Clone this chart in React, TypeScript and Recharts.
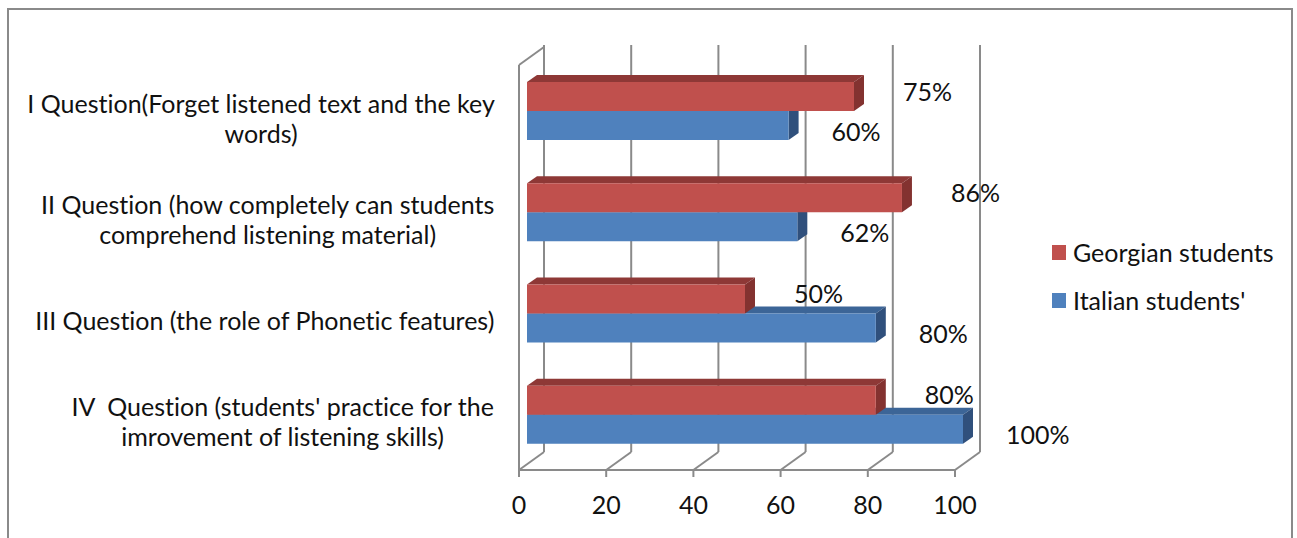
import React from 'react';
import { BarChart, Bar, XAxis, YAxis, CartesianGrid, LabelList, Legend } from 'recharts';

// ---------- data ----------
const categories = [
  'I Question(Forget listened text and the key words)',
  'II Question (how completely can students comprehend listening material)',
  'III Question (the role of Phonetic features)',
  "IV  Question (students' practice for the imrovement of listening skills)",
];
const categoryLines = [
  ['I Question(Forget listened text and the key', 'words)'],
  ['II Question (how completely can students', 'comprehend listening material)'],
  ['III Question (the role of Phonetic features)'],
  ["IV  Question (students' practice for the", 'imrovement of listening skills)'],
];
const georgianValues = [75, 86, 50, 80];
const italianValues = [60, 62, 80, 100];
const xTicks = [0, 20, 40, 60, 80, 100];
const boundaryTicks = [0, 1, 2, 3, 4];
const seriesNames = { georgian: 'Georgian students', italian: "Italian students'" };
const legendOrder = [seriesNames.georgian, seriesNames.italian];

const data = categories.map((c, i) => ({
  category: c,
  georgian: georgianValues[i],
  italian: italianValues[i],
}));

// ---------- style ----------
const FONT = 'Lato, Carlito, "Open Sans", sans-serif';
const FS = 25;
const TEXT = '#111';
const GRID = '#8a8a8a';
const RED = '#C0504D';
const RED_TOP = '#8E3836';
const RED_SIDE = '#833230';
const BLUE = '#4F81BD';
const BLUE_TOP = '#3C6597';
const BLUE_SIDE = '#30507C';
const NOLIG: React.CSSProperties = { fontVariantLigatures: 'none', fontFeatureSettings: '"liga" 0, "clig" 0' };

const WALL_DX = 25;
const WALL_DY = -18;
const SHIFT_X = 8;
const SHIFT_Y = -5;
const DEPTH_X = 10;
const DEPTH_Y = -7;
const LEGEND_W = 260;

let ctx: CanvasRenderingContext2D | null = null;
const measure = (t: string) => {
  if (!ctx) ctx = document.createElement('canvas').getContext('2d');
  if (!ctx) return t.length * FS * 0.45;
  ctx.font = `${FS}px ${FONT}`;
  return ctx.measureText(t).width;
};

const make3DBar = (front: string, top: string, side: string) => (props: any) => {
  const { x, y, width, height } = props;
  if (x == null || width == null) return null;
  const fx = x + SHIFT_X;
  const fy = y + SHIFT_Y;
  return (
    <g>
      <polygon
        points={`${fx},${fy} ${fx + DEPTH_X},${fy + DEPTH_Y} ${fx + width + DEPTH_X},${fy + DEPTH_Y} ${fx + width},${fy}`}
        fill={top}
      />
      <polygon
        points={`${fx + width},${fy} ${fx + width + DEPTH_X},${fy + DEPTH_Y} ${fx + width + DEPTH_X},${fy + height + DEPTH_Y} ${fx + width},${fy + height}`}
        fill={side}
      />
      <rect x={fx} y={fy} width={width} height={height} fill={front} />
    </g>
  );
};

const makeLabel = (dx: number, dy: number) => (props: any) => {
  const { x, y, width, height, value } = props;
  return (
    <text
      x={x + width + dx}
      y={y + height / 2 + dy}
      dominantBaseline="central"
      fontFamily={FONT}
      fontSize={FS}
      fill={TEXT}
      style={NOLIG}
    >
      {`${value}%`}
    </text>
  );
};

const CategoryTick = (props: any) => {
  const { x, y, payload } = props;
  const idx = categories.indexOf(payload.value);
  const lines = categoryLines[idx] || [String(payload.value)];
  const maxW = Math.max(...lines.map(measure));
  const cx = x - maxW / 2;
  const lh = 30;
  const startY = y + 2 - ((lines.length - 1) * lh) / 2;
  return (
    <g>
      {lines.map((l, i) => (
        <text
          key={i}
          x={cx}
          y={startY + i * lh}
          textAnchor="middle"
          dominantBaseline="central"
          fontFamily={FONT}
          fontSize={FS}
          fill={TEXT}
          style={{ ...NOLIG, whiteSpace: 'pre' }}
          xmlSpace="preserve"
        >
          {l}
        </text>
      ))}
    </g>
  );
};

const wallLine = (p: any) => {
  const { x1, y1, y2, index, key } = p;
  return (
    <g key={key}>
      <line x1={x1 + WALL_DX} y1={y1 + WALL_DY - 2} x2={x1 + WALL_DX} y2={y2 + WALL_DY} stroke={GRID} strokeWidth={2} />
      <line x1={x1} y1={y2} x2={x1 + WALL_DX} y2={y2 + WALL_DY} stroke={GRID} strokeWidth={2} />
      {index === 0 ? (
        <line x1={x1} y1={y1} x2={x1 + WALL_DX} y2={y1 + WALL_DY} stroke={GRID} strokeWidth={2} />
      ) : null}
    </g>
  );
};

const renderLegend = (props: any) => {
  const payload = [...(props.payload || [])].sort(
    (a: any, b: any) => legendOrder.indexOf(a.value) - legendOrder.indexOf(b.value)
  );
  return (
    <div style={{ fontFamily: FONT, fontSize: FS, color: TEXT, ...NOLIG }}>
      {payload.map((item: any, i: number) => (
        <div key={i} style={{ height: 48, display: 'flex', alignItems: 'center', whiteSpace: 'nowrap' }}>
          <span style={{ display: 'inline-block', width: 14, height: 15, background: item.color, marginRight: 7 }} />
          <span>{item.value}</span>
        </div>
      ))}
    </div>
  );
};

export default function App() {
  return (
    <div style={{ position: 'absolute', left: 0, top: 0, width: 1297, height: 538, overflow: 'hidden', background: '#fff' }}>
      <div
        style={{
          position: 'absolute',
          left: 7,
          top: 8,
          width: 1286,
          height: 600,
          border: `2px solid ${GRID}`,
          boxSizing: 'border-box',
        }}
      />
      <div style={{ position: 'absolute', left: 0, top: 0 }}>
        <BarChart
          width={1297}
          height={538}
          data={data}
          layout="vertical"
          barSize={29}
          barGap={-58}
          margin={{ top: 65, right: 342 - LEGEND_W, bottom: 8, left: 19 }}
        >
          <CartesianGrid vertical={wallLine} horizontal={false} />
          <XAxis
            type="number"
            domain={[0, 100]}
            ticks={xTicks}
            tickSize={7}
            tickMargin={19}
            height={60}
            axisLine={{ stroke: GRID, strokeWidth: 2 }}
            tickLine={{ stroke: GRID, strokeWidth: 2 }}
            tick={{ fontFamily: FONT, fontSize: FS, fill: TEXT }}
          />
          <YAxis
            type="category"
            dataKey="category"
            width={500}
            tickSize={0}
            tickMargin={24}
            tickLine={false}
            axisLine={{ stroke: GRID, strokeWidth: 2 }}
            tick={<CategoryTick />}
            interval={0}
          />
          <YAxis
            yAxisId="bounds"
            type="number"
            domain={[0, 4]}
            ticks={boundaryTicks}
            tick={false}
            axisLine={false}
            tickLine={{ stroke: GRID, strokeWidth: 2 }}
            tickSize={6}
            width={0}
          />
          <Legend
            layout="horizontal"
            verticalAlign="middle"
            align="right"
            content={renderLegend}
            wrapperStyle={{ left: 1052, top: 228, width: LEGEND_W }}
          />
          <Bar
            dataKey="italian"
            name={seriesNames.italian}
            fill={BLUE}
            isAnimationActive={false}
            shape={make3DBar(BLUE, BLUE_TOP, BLUE_SIDE)}
          >
            <LabelList dataKey="italian" content={makeLabel(51, 0)} />
          </Bar>
          <Bar
            dataKey="georgian"
            name={seriesNames.georgian}
            fill={RED}
            isAnimationActive={false}
            shape={make3DBar(RED, RED_TOP, RED_SIDE)}
          >
            <LabelList dataKey="georgian" content={makeLabel(57, -11)} />
          </Bar>
        </BarChart>
      </div>
    </div>
  );
}
